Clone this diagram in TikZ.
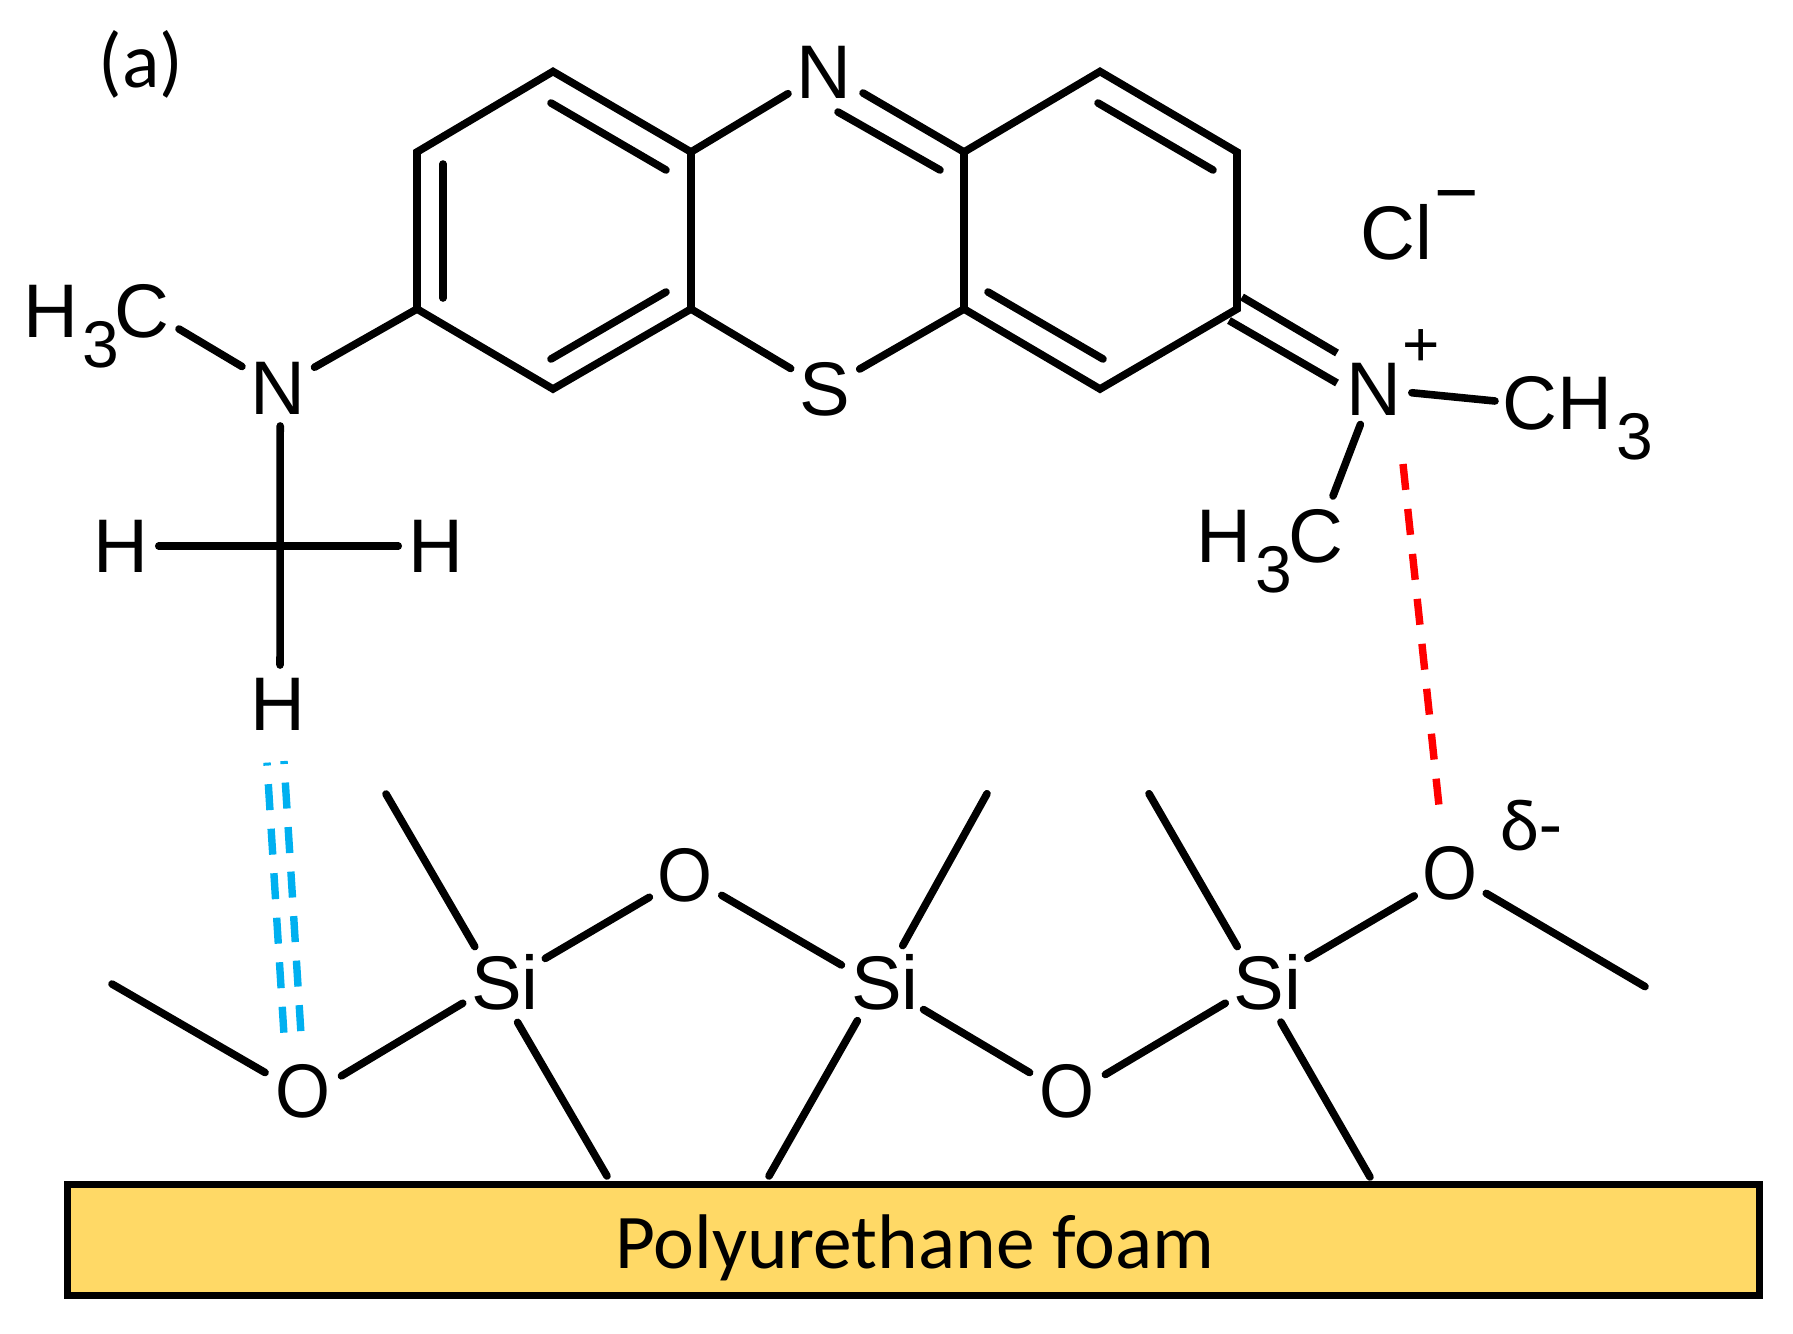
\documentclass[tikz,border=0pt]{standalone}
\usepackage{fontspec}
\setmainfont{Liberation Sans}
\newfontfamily\calfont{Carlito}
\newcommand{\sbthree}{\kern2pt\raisebox{-15pt}{\fontsize{33}{33}\selectfont 3}}
\newcommand{\oxy}{\scalebox{0.93}[1]{O}}
\tikzset{
  bond/.style={line width=3.8pt,line cap=round,line join=miter,black},
  atom/.style={circle,inner sep=0pt,outer sep=0pt,minimum size=#1,font=\fontsize{38}{38}\selectfont},
  atom/.default=42pt,
  group/.style={inner sep=0pt,anchor=base west,font=\fontsize{38}{38}\selectfont},
  note/.style={inner sep=0pt,font=\calfont\fontsize{#1}{#1}\selectfont},
  hblue/.style={line width=3.7pt,color=hbcolor,dash pattern=on 13pt off 9.3pt,dash phase=11.5pt},
  hred/.style={line width=3.7pt,color=red,dash pattern=on 13pt off 9.6pt}
}
\definecolor{hbcolor}{HTML}{00B0F0}
\definecolor{foamfill}{HTML}{FFD966}
\begin{document}
\begin{tikzpicture}[x=0.5pt,y=-0.5pt]
\useasboundingbox (0,0) rectangle (1793,1333);
% ring vertices
\coordinate (a1) at (553,71.5);
\coordinate (a2) at (691,152);
\coordinate (a3) at (691,309);
\coordinate (a4) at (553,389);
\coordinate (a5) at (417,309);
\coordinate (a6) at (417,152);
\coordinate (b1) at (1100,71.5);
\coordinate (b2) at (1237,152);
\coordinate (b3) at (1237,309);
\coordinate (b4) at (1100,389);
\coordinate (b5) at (964,309);
\coordinate (b6) at (964,152);
% atoms
\node[atom] (ntop) at (824,72) {N};
\node[atom=40pt] (s) at (825,389) {S};
\node[atom] (nl) at (278,388) {N};
\node[atom=37pt] (hl) at (121,546) {H};
\node[atom=35pt] (hr) at (436,546) {H};
\node[atom=39pt] (hb) at (278,704) {H};
\node[atom=38pt] (np) at (1374,389) {N};
\node[group] (h3cl) at (23,337) {H\sbthree\kern-2pt C};
\node[group] (h3cr) at (1196,562.5) {H\sbthree\kern-2pt C};
\node[group] (ch3) at (1502,429.5) {CH\sbthree};
\node[group] (cl) at (1360,259) {Cl\kern1pt\raisebox{20.5pt}{−}};
\node[inner sep=0pt,anchor=base,font=\fontsize{32}{32}\selectfont] (plus) at (1421,366) {+};
\coordinate (hlend) at (179,329);
\coordinate (h3rend) at (1333,496);
\coordinate (ch3end) at (1495,401);
% rings
\draw[bond] (a1)--(a2)--(a3)--(a4)--(a5)--(a6)--cycle;
\draw[bond] (b1)--(b2)--(b3)--(b4)--(b5)--(b6)--cycle;
\draw[bond] (551,103)--(666,170);
\draw[bond] (443,164)--(443,298);
\draw[bond] (551,359)--(666,292);
\draw[bond] (1098,103)--(1213,170);
\draw[bond] (988,292)--(1103,359);
% links
\draw[bond] (a2)--(ntop);
\draw[bond] (863,93)--(b6);
\draw[bond] (838,112)--(940,170);
\draw[bond] (a3)--(s);
\draw[bond] (b5)--(s);
\draw[bond] (a5)--(nl);
\draw[bond] (nl)--(hlend);
\draw[bond,shorten <=-2pt] (nl.-87)--(hb.87);
\draw[bond] (hl)--(hr);
\coordinate (dba) at (1242,297);
\coordinate (dbb) at (1337,353);
\coordinate (dbc) at (1229,320.5);
\coordinate (dbd) at (1337,383);
\draw[bond,line cap=butt] (dba)--(dbb);
\draw[bond,line cap=butt] (dbc)--(dbd);
\draw[bond] (np)--(ch3end);
\draw[bond] (np)--(h3rend);
% silane chain
\node[atom] (o1) at (302.5,1091.6) {\oxy};
\node[atom] (o2) at (685,875) {\oxy};
\node[atom] (o3) at (1067,1091.6) {\oxy};
\node[atom] (o4) at (1449.5,873) {\oxy};
\node[atom=47pt] (si1) at (505,982.6) {Si};
\node[atom=47pt] (si2) at (885,982.6) {Si};
\node[atom=47pt] (si3) at (1267.5,982.6) {Si};
\coordinate (m0) at (112,984);
\coordinate (m1) at (386,794);
\coordinate (m2) at (987,793.7);
\coordinate (m3) at (1149,793.7);
\coordinate (m4) at (1645,986.6);
\coordinate (f1) at (607,1176);
\coordinate (f2) at (769,1176);
\coordinate (f3) at (1370,1177);
\draw[bond] (m0)--(o1.153.7);
\draw[bond] (o1.22.5)--(si1.206);
\draw[bond] (si1.31.7)--(o2.212.6);
\draw[bond] (o2.-29)--(si2.158);
\draw[bond] (si2.-35.8)--(o3.153.4);
\draw[bond] (o3.24.8)--(si3.206);
\draw[bond] (si3.31.7)--(o4.213);
\draw[bond] (o4.-29.7)--(m4);
\draw[bond] (si1.130)--(m1);
\draw[bond,shorten <=-3pt] (si2.64.5)--(m2);
\draw[bond] (si3.130)--(m3);
\draw[bond,shorten <=-2.7pt] (si1.-71.7)--(f1);
\draw[bond] (si2.234)--(f2);
\draw[bond,shorten <=-2.7pt] (si3.-70)--(f3);
% interactions
\coordinate (bl1) at (267,762.6);
\coordinate (bl2) at (284,1035);
\coordinate (br1) at (284,761);
\coordinate (br2) at (301,1034);
\draw[hblue] (bl1)--(bl2);
\draw[hblue] (br1)--(br2);
\coordinate (rd1) at (1403,464);
\coordinate (rd2) at (1439,806);
\draw[hred] (rd1)--(rd2);
% labels
\node[note=37,anchor=base west] (delta) at (1500,850) {δ-};
\node[note=39,anchor=base west] (lab) at (98,87) {(a)};
\node[draw=black,line width=3.4pt,fill=foamfill,minimum width=846pt,minimum height=55.5pt,inner sep=0pt,outer sep=0pt,anchor=north west] (foam) at (67.7,1184.5) {};
\node[note=38.7,anchor=base] (foamtext) at (914.5,1268) {Polyurethane foam};
\end{tikzpicture}
\end{document}
